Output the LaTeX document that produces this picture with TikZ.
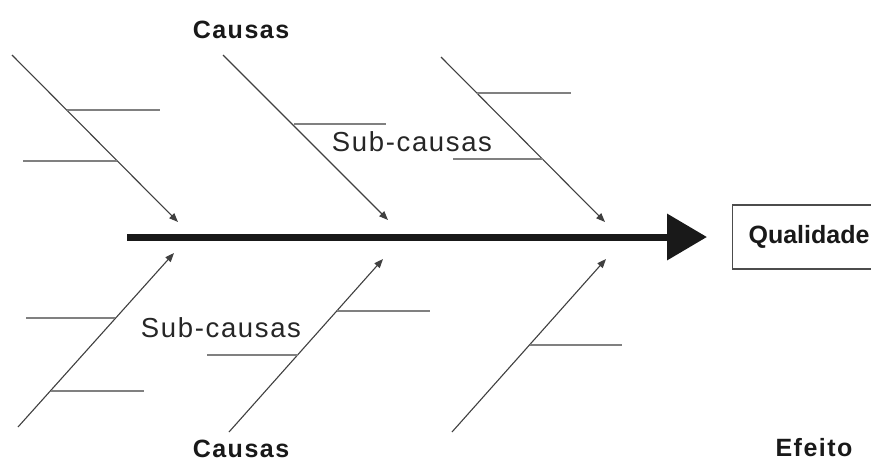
\documentclass[tikz,border=0pt]{standalone}
\usepackage{fontspec}
\setmainfont{Liberation Sans}
\newfontfamily\labfont[LetterSpace=6]{Liberation Sans}
\usetikzlibrary{arrows.meta}
\tikzset{
  bone/.style={draw=black!75, line width=1.1pt, -{Triangle[length=9pt,width=7pt]}},
  sub/.style={draw=black!50, line width=1.8pt},
  spine/.style={draw=black!90, line width=7pt, -{Triangle[length=40pt,width=45pt]}},
  boldlab/.style={font=\labfont\bfseries\fontsize{25}{28}\selectfont, text=black!90, inner sep=0pt},
  sublab/.style={font=\labfont\fontsize{27.5}{30}\selectfont, text=black!85, inner sep=0pt},
  qbox/.style={draw=black!70, line width=1.2pt, anchor=west, minimum height=64pt, minimum width=160pt, inner xsep=16pt, align=left, text width=140pt, font=\bfseries\fontsize{25}{28}\selectfont, text=black!90}
}
\begin{document}
\begin{tikzpicture}[x=1pt,y=-1pt]
\useasboundingbox (0,0) rectangle (871,463);
\clip (0,0) rectangle (871,463);
\fill[white] (0,0) rectangle (871,463);
% main spine
\coordinate (s0) at (127,237);
\coordinate (s1) at (707,237);
\draw[spine] (s0) -- (s1);
\node[qbox] (qual) at (732,237) {Qualidade};
% top bones
\coordinate (t1a) at (12,55);   \coordinate (t1b) at (178,222);
\coordinate (t2a) at (223,55);  \coordinate (t2b) at (388,220);
\coordinate (t3a) at (441,57);  \coordinate (t3b) at (605,222);
\draw[bone] (t1a) -- (t1b);
\draw[bone] (t2a) -- (t2b);
\draw[bone] (t3a) -- (t3b);
% top sub-causes
\coordinate (u1a) at (67,110);  \coordinate (u1b) at (160,110);
\coordinate (u2a) at (23,161);  \coordinate (u2b) at (117,161);
\coordinate (u3a) at (294,124); \coordinate (u3b) at (386,124);
\coordinate (u4a) at (477,93);  \coordinate (u4b) at (571,93);
\coordinate (u5a) at (453,159); \coordinate (u5b) at (543,159);
\draw[sub] (u1a) -- (u1b);
\draw[sub] (u2a) -- (u2b);
\draw[sub] (u3a) -- (u3b);
\draw[sub] (u4a) -- (u4b);
\draw[sub] (u5a) -- (u5b);
% bottom bones
\coordinate (b1a) at (18,427);  \coordinate (b1b) at (174,253);
\coordinate (b2a) at (229,432); \coordinate (b2b) at (383,259);
\coordinate (b3a) at (452,432); \coordinate (b3b) at (606,259);
\draw[bone] (b1a) -- (b1b);
\draw[bone] (b2a) -- (b2b);
\draw[bone] (b3a) -- (b3b);
% bottom sub-causes
\coordinate (l1a) at (26,318);  \coordinate (l1b) at (115,318);
\coordinate (l2a) at (51,391);  \coordinate (l2b) at (144,391);
\coordinate (l3a) at (207,355); \coordinate (l3b) at (298,355);
\coordinate (l4a) at (337,311); \coordinate (l4b) at (430,311);
\coordinate (l5a) at (530,345); \coordinate (l5b) at (622,345);
\draw[sub] (l1a) -- (l1b);
\draw[sub] (l2a) -- (l2b);
\draw[sub] (l3a) -- (l3b);
\draw[sub] (l4a) -- (l4b);
\draw[sub] (l5a) -- (l5b);
% labels
\node[boldlab] (ctop) at (241,30) {Causas};
\node[boldlab] (cbot) at (241,449) {Causas};
\node[boldlab] (efeito) at (814,448) {Efeito};
\node[sublab] (stop) at (412,142) {Sub-causas};
\node[sublab] (sbot) at (221,328) {Sub-causas};
\end{tikzpicture}
\end{document}
